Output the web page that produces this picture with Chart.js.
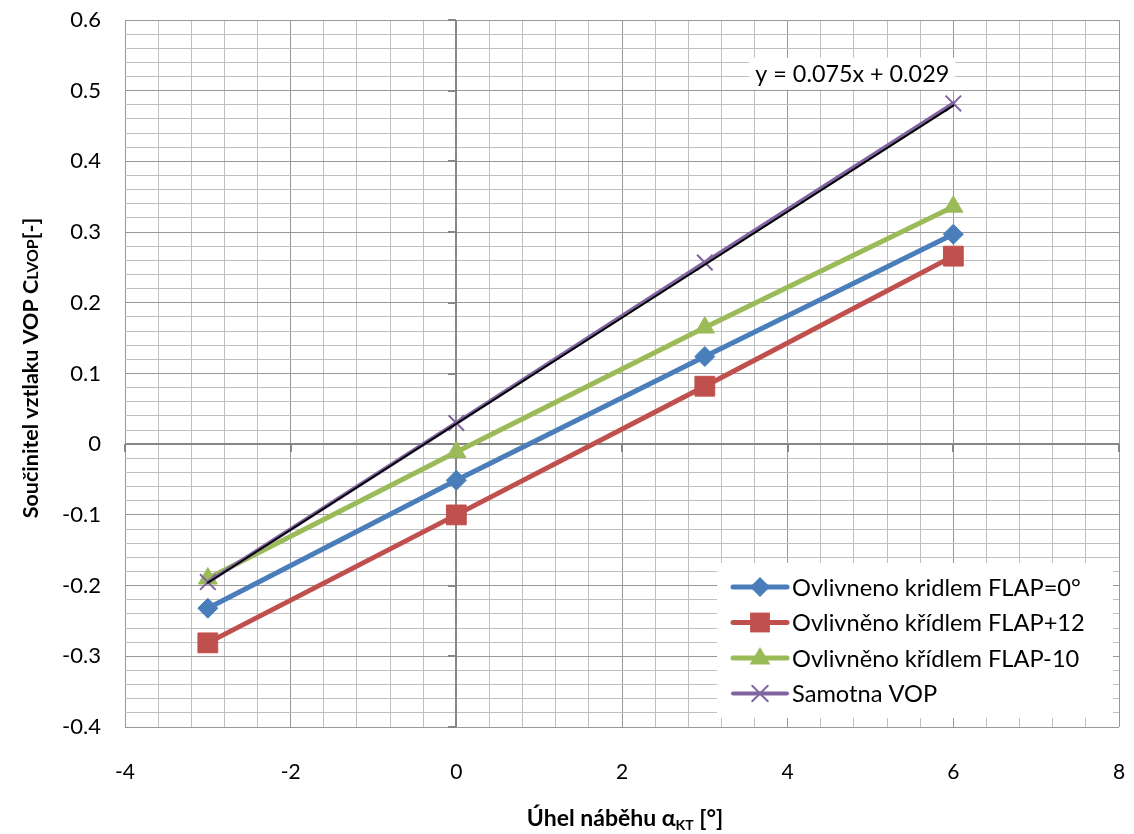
<!DOCTYPE html>
<html>
<head>
<meta charset="utf-8">
<script src="https://cdn.jsdelivr.net/npm/chart.js@4/dist/chart.umd.min.js"></script>
<style>
  html, body { margin: 0; padding: 0; background: #fff; }
  #wrap { width: 1134px; height: 834px; position: relative; }
</style>
</head>
<body>
<div id="wrap"><canvas id="c" width="1134" height="834"></canvas></div>
<script>
// ---- data ----
const anglesX = [-3, 0, 3, 6];
const flap0 = [-0.232, -0.051, 0.124, 0.297];
const flapPlus12 = [-0.281, -0.100, 0.082, 0.266];
const flapMinus10 = [-0.190, -0.011, 0.165, 0.336];
const samotnaVOP = [-0.195, 0.030, 0.257, 0.482];
const trendSlope = 0.075;
const trendIntercept = 0.029;
const trendRangeX = [-3, 6];
const seriesNames = ['Ovlivneno kridlem FLAP=0°', 'Ovlivněno křídlem FLAP+12', 'Ovlivněno křídlem FLAP-10', 'Samotna VOP'];
const xTickLabels = [-4, -2, 0, 2, 4, 6, 8];
const yTickLabels = [-0.4, -0.3, -0.2, -0.1, 0, 0.1, 0.2, 0.3, 0.4, 0.5, 0.6];
const equationText = 'y = 0.075x + 0.029';

const FONT = 'Lato, "Liberation Sans", sans-serif';
const COLORS = { blue: '#4A7EBB', red: '#C0504D', green: '#9BBB59', purple: '#8064A2' };

function pts(ys) { return anglesX.map((x, i) => ({ x: x, y: ys[i] })); }
const trendPts = trendRangeX.map(x => ({ x: x, y: trendSlope * x + trendIntercept }));

// minor tick positions (grid structure only)
function makeTicks(major, divisions) {
  const out = [];
  for (let i = 0; i < major.length - 1; i++) {
    const a = major[i], b = major[i + 1];
    for (let k = 0; k < divisions; k++) out.push({ value: +(a + (b - a) * k / divisions).toFixed(6), major: k === 0 });
  }
  out.push({ value: major[major.length - 1], major: true });
  return out;
}

const seriesStyles = [
  { color: COLORS.blue, style: 'rectRot', r: 10, lw: 5 },
  { color: COLORS.red, style: 'rect', r: 14, lw: 5 },
  { color: COLORS.green, style: 'triangle', r: 11, lw: 5 },
  { color: COLORS.purple, style: 'crossRot', r: 11, lw: 4 }
];

const datasets = [
  { label: seriesNames[0], data: pts(flap0), order: 4 },
  { label: seriesNames[1], data: pts(flapPlus12), order: 3 },
  { label: seriesNames[2], data: pts(flapMinus10), order: 2 },
  { label: seriesNames[3], data: pts(samotnaVOP), order: 1 }
].map((d, i) => Object.assign(d, {
  showLine: true,
  borderColor: seriesStyles[i].color,
  backgroundColor: seriesStyles[i].color,
  pointBackgroundColor: seriesStyles[i].color,
  pointBorderColor: seriesStyles[i].color,
  borderWidth: seriesStyles[i].lw,
  pointStyle: seriesStyles[i].style,
  pointRadius: seriesStyles[i].r,
  pointBorderWidth: seriesStyles[i].style === 'crossRot' ? 2 : 1,
  tension: 0
}));
datasets.push({
  label: 'trend', data: trendPts, showLine: true, borderColor: '#000', borderWidth: 2,
  pointRadius: 0, order: 0, tension: 0
});

function isMajor(scale, v) {
  const list = scale.axis === 'x' ? xTickLabels : yTickLabels;
  return list.some(t => Math.abs(t - v) < 1e-6);
}

function fitSize(ctx, weight, text, target) {
  ctx.font = weight + '20px ' + FONT;
  return 20 * target / ctx.measureText(text).width;
}

function drawMarker(ctx, style, x, y, r, color) {
  ctx.save();
  ctx.fillStyle = color; ctx.strokeStyle = color;
  ctx.beginPath();
  if (style === 'rectRot') {
    ctx.moveTo(x, y - r); ctx.lineTo(x + r, y); ctx.lineTo(x, y + r); ctx.lineTo(x - r, y); ctx.closePath(); ctx.fill();
  } else if (style === 'rect') {
    const s = r / Math.SQRT2; ctx.rect(x - s, y - s, 2 * s, 2 * s); ctx.fill();
  } else if (style === 'triangle') {
    ctx.moveTo(x, y - r); ctx.lineTo(x + r * 0.95, y + r * 0.6); ctx.lineTo(x - r * 0.95, y + r * 0.6); ctx.closePath(); ctx.fill();
  } else if (style === 'crossRot') {
    const s = r * Math.SQRT1_2; ctx.lineWidth = 2;
    ctx.moveTo(x - s, y - s); ctx.lineTo(x + s, y + s); ctx.moveTo(x + s, y - s); ctx.lineTo(x - s, y + s); ctx.stroke();
  }
  ctx.restore();
}

const overlayPlugin = {
  id: 'overlay',
  beforeDatasetsDraw(chart) {
    // axes crossing at zero
    const ctx = chart.ctx, xs = chart.scales.x, ys = chart.scales.y, a = chart.chartArea;
    const x0 = Math.round(xs.getPixelForValue(0)), y0 = Math.round(ys.getPixelForValue(0));
    ctx.save();
    ctx.strokeStyle = '#868686';
    ctx.lineWidth = 2;
    ctx.beginPath();
    ctx.moveTo(x0, a.top); ctx.lineTo(x0, a.bottom);
    ctx.moveTo(a.left, y0); ctx.lineTo(a.right, y0);
    ctx.stroke();
    ctx.beginPath();
    yTickLabels.forEach(v => { const p = Math.round(ys.getPixelForValue(v)); ctx.moveTo(x0 - 8, p); ctx.lineTo(x0, p); });
    xTickLabels.forEach(v => { const p = Math.round(xs.getPixelForValue(v)); ctx.moveTo(p, y0); ctx.lineTo(p, y0 + 8); });
    ctx.stroke();
    ctx.restore();
  },
  afterDraw(chart) {
    const ctx = chart.ctx, xs = chart.scales.x, ys = chart.scales.y, a = chart.chartArea;
    ctx.save();
    // equation label
    const eqSize = fitSize(ctx, '', equationText, 194);
    ctx.font = eqSize + 'px ' + FONT;
    const ex = xs.getPixelForValue(4.78), ey = ys.getPixelForValue(0.524);
    const ew = ctx.measureText(equationText).width;
    ctx.fillStyle = '#fff';
    ctx.fillRect(ex - ew / 2 - 6, ey - 16, ew + 12, 32);
    ctx.fillStyle = '#000';
    ctx.textAlign = 'center'; ctx.textBaseline = 'middle';
    ctx.fillText(equationText, ex, ey + 1);

    // legend
    const lw = 396, lh = 155;
    const lx = a.right - 6 - lw, ly = a.bottom - 9 - lh;
    ctx.fillStyle = '#fff';
    ctx.fillRect(lx, ly, lw, lh);
    ctx.textAlign = 'left'; ctx.textBaseline = 'middle';
    const legSize = fitSize(ctx, '', seriesNames[0], 289);
    ctx.font = legSize + 'px ' + FONT;
    seriesNames.forEach((name, i) => {
      const st = seriesStyles[i];
      const ry = ly + 24 + i * 35.5;
      ctx.strokeStyle = st.color; ctx.lineWidth = st.lw; ctx.lineCap = 'round';
      ctx.beginPath(); ctx.moveTo(lx + 16, ry); ctx.lineTo(lx + 70, ry); ctx.stroke();
      drawMarker(ctx, st.style, lx + 43, ry, st.r, st.color);
      ctx.fillStyle = '#000';
      ctx.fillText(name, lx + 75, ry + 1);
    });

    // y axis title
    ctx.save();
    ctx.translate(30, 368);
    ctx.rotate(-Math.PI / 2);
    ctx.fillStyle = '#000';
    ctx.textBaseline = 'alphabetic';
    ctx.textAlign = 'left';
    const partA = 'Součinitel vztlaku VOP C', partB = 'LVOP', partC = '[-]';
    const big = 21.5, small = 16;
    ctx.font = 'bold ' + big + 'px ' + FONT;
    const wA = ctx.measureText(partA).width, wC = ctx.measureText(partC).width;
    ctx.font = 'bold ' + small + 'px ' + FONT;
    const wB = ctx.measureText(partB).width;
    let sx = -(wA + wB + wC) / 2;
    const base = 8;
    ctx.font = 'bold ' + big + 'px ' + FONT; ctx.fillText(partA, sx, base); sx += wA;
    ctx.font = 'bold ' + small + 'px ' + FONT; ctx.fillText(partB, sx, base); sx += wB;
    ctx.font = 'bold ' + big + 'px ' + FONT; ctx.fillText(partC, sx, base);
    ctx.restore();

    // x axis title
    ctx.fillStyle = '#000';
    ctx.textBaseline = 'alphabetic';
    ctx.textAlign = 'left';
    const t1 = 'Úhel náběhu α', t2 = 'KT', t3 = ' [°]';
    const tb = 23, ts = 14;
    ctx.font = 'bold ' + tb + 'px ' + FONT;
    const w1 = ctx.measureText(t1).width, w3 = ctx.measureText(t3).width;
    ctx.font = 'bold ' + ts + 'px ' + FONT;
    const w2 = ctx.measureText(t2).width;
    let tx = 625 - (w1 + w2 + w3) / 2;
    const ty = 826;
    ctx.font = 'bold ' + tb + 'px ' + FONT; ctx.fillText(t1, tx, ty); tx += w1;
    ctx.font = 'bold ' + ts + 'px ' + FONT; ctx.fillText(t2, tx, ty + 4); tx += w2;
    ctx.font = 'bold ' + tb + 'px ' + FONT; ctx.fillText(t3, tx, ty);
    ctx.restore();
  }
};

function noPad(s) { s.paddingTop = 0; s.paddingBottom = 0; s.paddingLeft = 0; s.paddingRight = 0; }

new Chart(document.getElementById('c'), {
  type: 'scatter',
  data: { datasets: datasets },
  options: {
    responsive: false,
    animation: false,
    devicePixelRatio: 1,
    layout: { padding: { top: 20, right: 10, left: 0, bottom: 0 } },
    plugins: { legend: { display: false }, tooltip: { enabled: false } },
    elements: { line: { borderCapStyle: 'round', borderJoinStyle: 'round' } },
    scales: {
      x: {
        type: 'linear', min: -4, max: 8,
        afterBuildTicks: s => { s.ticks = makeTicks(xTickLabels, 5); },
        afterFit: s => { s.height = 107; noPad(s); },
        border: { display: false },
        grid: {
          drawTicks: false,
          color: c => isMajor(c.scale, c.tick.value) ? '#989898' : '#c0c0c0',
          lineWidth: 1
        },
        ticks: {
          autoSkip: false, maxRotation: 0, padding: 33, color: '#000',
          font: { family: FONT, size: 21 },
          callback: function (v) { return isMajor(this, v) ? String(v) : ''; }
        }
      },
      y: {
        type: 'linear', min: -0.4, max: 0.6,
        afterBuildTicks: s => { s.ticks = makeTicks(yTickLabels, 5); },
        afterFit: s => { s.width = 125; noPad(s); },
        border: { display: false },
        grid: {
          drawTicks: false,
          color: c => isMajor(c.scale, c.tick.value) ? '#989898' : '#c0c0c0',
          lineWidth: 1
        },
        ticks: {
          autoSkip: false, padding: 24, color: '#000',
          font: { family: FONT, size: 22 },
          callback: function (v) { return isMajor(this, v) ? String(+v.toFixed(1)) : ''; }
        }
      }
    }
  },
  plugins: [overlayPlugin]
});
</script>
</body>
</html>
